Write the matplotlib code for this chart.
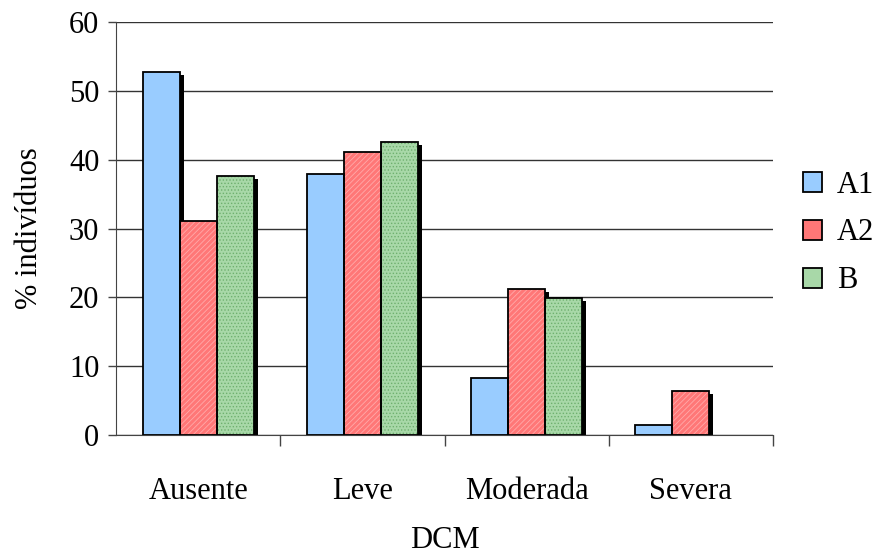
import matplotlib
matplotlib.use("Agg")
import matplotlib.pyplot as plt
import matplotlib.transforms as mtransforms
from matplotlib.patches import Patch
import numpy as np

categories = ["Ausente", "Leve", "Moderada", "Severa"]
series_names = ["A1", "A2", "B"]
a1 = [52.7, 37.9, 8.3, 1.5]
a2 = [31.1, 41.1, 21.2, 6.4]
b = [37.6, 42.6, 19.9, 0.0]
yticks = [0, 10, 20, 30, 40, 50, 60]

plt.rcParams['font.family'] = ['Liberation Serif', 'DejaVu Serif']
plt.rcParams['hatch.linewidth'] = 0.6

FS = 22
fig = plt.figure(figsize=(8.88, 5.55), dpi=100)
ax = fig.add_axes([116/888, 1-435/555, (773-116)/888, (435-22)/555])

x = np.arange(len(categories))
w = 0.225
faces = ["#99CCFF", "#FF7777", "#A8D8A8"]
hatchcols = [None, "#FFAAAA", "#6FAF6F"]
hatches = [None, "//////", "....."]
data = [a1, a2, b]
offsets = [-w, 0, w]

shadow_tr = mtransforms.offset_copy(ax.transData, fig=fig, x=4, y=-3, units='dots')
for vals, off in zip(data, offsets):
    bars = ax.bar(x + off, vals, w, color="black", linewidth=0, zorder=2)
    for bar, v in zip(bars, vals):
        bar.set_transform(shadow_tr)
        if v == 0:
            bar.set_visible(False)

for vals, off, fc, hc, h in zip(data, offsets, faces, hatchcols, hatches):
    if h:
        ax.bar(x + off, vals, w, color=fc, edgecolor=hc, hatch=h, linewidth=0, zorder=3)
    else:
        ax.bar(x + off, vals, w, color=fc, linewidth=0, zorder=3)
    outl = ax.bar(x + off, vals, w, fill=False, edgecolor="black", linewidth=1.3, zorder=4)
    for bar, v in zip(outl, vals):
        if v == 0:
            bar.set_visible(False)

ax.set_xlim(-0.5, 3.5)
ax.set_ylim(0, 60)
ax.set_yticks(yticks)
ax.yaxis.grid(True, color="#333333", linewidth=1.0, zorder=0)
ax.set_axisbelow(True)
ax.set_xticks(x)
ax.set_xticklabels(categories)
ax.set_xticks([0.5, 1.5, 2.5, 3.5], minor=True)
ax.tick_params(axis='x', which='major', length=0, pad=30, labelsize=FS)
ax.tick_params(axis='x', which='minor', length=8, width=1, color="#444444")
ax.tick_params(axis='y', length=6, width=1, labelsize=FS, color="#444444", pad=6)
for s in ["top", "right"]:
    ax.spines[s].set_visible(False)
ax.spines["left"].set_color("#444444")
ax.spines["bottom"].set_color("#444444")
ax.set_ylabel("% indivíduos", fontsize=FS, labelpad=18)
ax.set_xlabel("DCM", fontsize=FS, labelpad=15)

handles = [
    Patch(facecolor=faces[0], edgecolor="black", linewidth=1.3),
    Patch(facecolor=faces[1], edgecolor="black", linewidth=1.3),
    Patch(facecolor=faces[2], edgecolor="black", linewidth=1.3),
]
fig.legend(handles, series_names, loc="center left", bbox_to_anchor=(803/888, 1-233/555),
           frameon=False, fontsize=FS, handlelength=0.62, handleheight=0.62,
           handletextpad=0.5, labelspacing=0.62, borderaxespad=0, borderpad=0)

fig.savefig("out.png", dpi=100)
